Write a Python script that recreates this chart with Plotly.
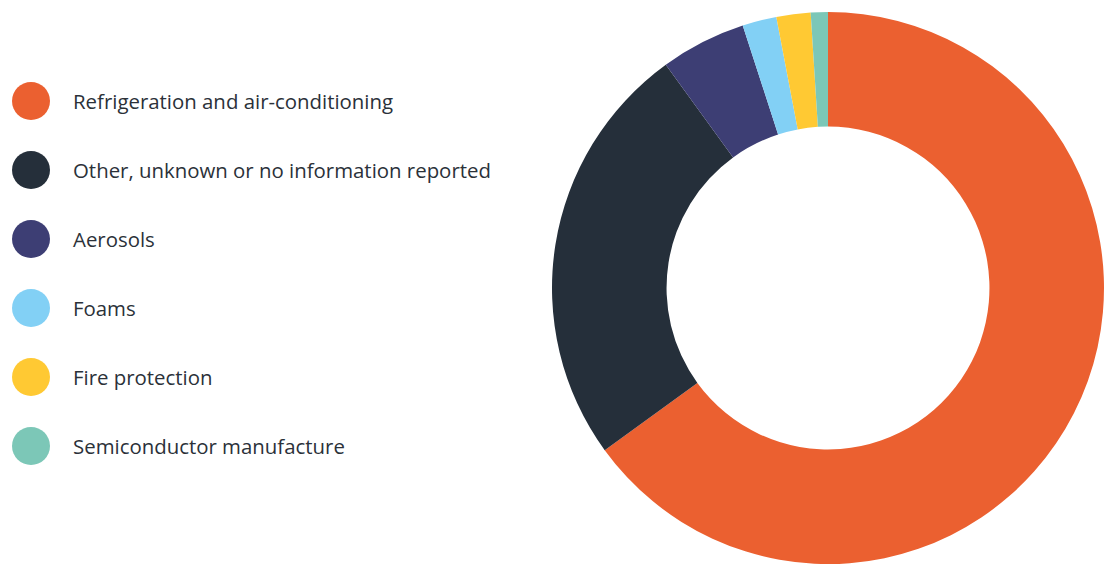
import plotly.graph_objects as go

categories = [
    "Refrigeration and air-conditioning",
    "Other, unknown or no information reported",
    "Aerosols",
    "Foams",
    "Fire protection",
    "Semiconductor manufacture",
]
values = [65, 25, 5, 2, 2, 1]
colors = ["#EB6030", "#252F3A", "#3D3E74", "#82D0F5", "#FFC933", "#7CC7B7"]

W, H = 1106, 564

fig = go.Figure(
    go.Pie(
        labels=categories,
        values=values,
        marker=dict(colors=colors, line=dict(width=0)),
        hole=0.585,
        sort=False,
        direction="clockwise",
        rotation=0,
        textinfo="none",
        showlegend=False,
        domain=dict(x=[550 / W, 1.0], y=[0.0, 552 / H]),
    )
)

# custom legend: big circles + labels
y0, dy, r = 101, 69, 19
cx = 31
for i, (name, c) in enumerate(zip(categories, colors)):
    cy = y0 + i * dy
    fig.add_shape(
        type="circle", xref="paper", yref="paper",
        x0=(cx - r) / W, x1=(cx + r) / W,
        y0=1 - (cy + r) / H, y1=1 - (cy - r) / H,
        fillcolor=c, line=dict(width=0),
    )
    fig.add_annotation(
        x=70.5 / W, y=1 - cy / H, xref="paper", yref="paper",
        text=name, showarrow=False, xanchor="left", yanchor="middle",
        font=dict(family="Open Sans", size=20.4, color="#2B3139"),
    )

fig.update_layout(
    width=W, height=H,
    margin=dict(l=0, r=0, t=0, b=0),
    paper_bgcolor="white",
    plot_bgcolor="white",
)

fig.write_html("out.html")
